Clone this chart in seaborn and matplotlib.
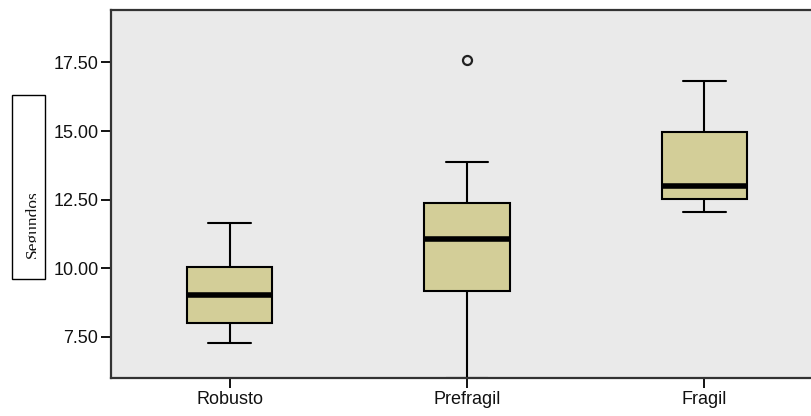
import pandas as pd
import numpy as np
import matplotlib
matplotlib.use('Agg')
import matplotlib.pyplot as plt
import seaborn as sns
from matplotlib.patches import Rectangle
from matplotlib.transforms import Bbox, TransformedBbox

sns.set_theme(style='white')
plt.rcParams['font.family'] = ['Liberation Sans', 'DejaVu Sans']

# values (seconds per group)
grupos = ['Robusto', 'Prefragil', 'Fragil']
robusto = [7.27, 8.02, 9.02, 10.03, 11.65]
prefragil = [6.0, 8.4, 9.17, 10.2, 11.06, 11.8, 12.39, 13.87, 17.57]
fragil = [12.05, 12.54, 12.98, 14.97, 16.84]

df = pd.DataFrame({
    'grupo': ['Robusto'] * len(robusto) + ['Prefragil'] * len(prefragil) + ['Fragil'] * len(fragil),
    'segundos': robusto + prefragil + fragil,
})

fig = plt.figure(figsize=(8.11, 4.16), dpi=100)
W, H = 811, 416
ax = fig.add_axes([111 / W, 38 / H, 712 / W, 368 / H])
ax.set_facecolor('#EAEAEA')

sns.boxplot(data=df, x='grupo', y='segundos', order=grupos, ax=ax,
            width=0.36, color='#D3CE98', saturation=1, linecolor='black',
            linewidth=1.5,
            medianprops=dict(color='black', linewidth=4),
            flierprops=dict(marker='o', markerfacecolor='none', markeredgecolor='#222222',
                            markersize=6.5, markeredgewidth=1.6))

ax.set_ylim(6.0, 19.41)
ax.set_xlim(-0.5, 2.5)
ax.set_yticks([7.5, 10, 12.5, 15, 17.5])
ax.set_yticklabels(['7.50', '10.00', '12.50', '15.00', '17.50'])
ax.set_xlabel('')
ax.set_ylabel('')
ax.tick_params(axis='both', which='both', length=7, width=1.3, color='black',
               labelsize=13, labelcolor='#111111', left=True, bottom=True, pad=2)
for s in ['left', 'top', 'bottom', 'right']:
    ax.spines[s].set_color('#333333')
    ax.spines[s].set_linewidth(1.6)

# boxed, clipped axis title like the original
fig.patches.append(Rectangle((12 / W, (H - 279) / H), 33 / W, 184 / H,
                             transform=fig.transFigure, fill=False,
                             edgecolor='black', linewidth=1))
t = fig.text(33 / W, (H - 224) / H, 'Segundos', rotation=90, ha='center', va='center',
             family='Liberation Serif', fontsize=12.5, color='#111111')
t.set_clip_box(TransformedBbox(Bbox.from_extents(12 / W, (H - 279) / H, 36 / W, (H - 95) / H),
                               fig.transFigure))
t.set_clip_on(True)

fig.savefig('out.png', dpi=100)
